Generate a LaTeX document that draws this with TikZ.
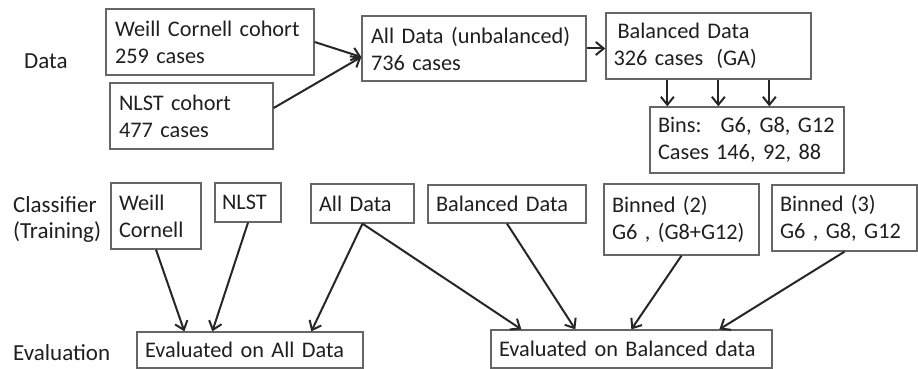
\documentclass[tikz,border=0pt]{standalone}
\usepackage{fontspec}
\setmainfont{Carlito}
\usetikzlibrary{arrows.meta,calc}
\begin{document}
\begin{tikzpicture}[x=1pt,y=-1pt,
  every node/.style={text=black!88},
  box/.style={draw=black!60, line width=1.3pt, align=left, inner xsep=9pt, inner ysep=0pt, font=\fontsize{22.3}{27}\selectfont},
  lbl/.style={anchor=base west, inner sep=0pt, font=\fontsize{23}{27}\selectfont},
  arr/.style={draw=black!85, line width=2pt, -{Straight Barb[length=8pt,width=13pt,line width=2pt]}}]
\useasboundingbox (0,0) rectangle (918,369);
% row labels
\node[lbl] (ldata) at (24,68) {Data};
\node[lbl] (lclass) at (13,212) {Classifier};
\node[lbl] (ltrain) at (13,238) {(Training)};
\node[lbl] (leval) at (13,360) {Evaluation};
% data row
\node[box, minimum width=208pt, minimum height=66pt, text width=190pt] (wcc) at (210,42) {\mbox{Weill Cornell cohort}\\\mbox{259 cases}};
\node[box, minimum width=163pt, minimum height=66pt, text width=145pt] (nlstc) at (191.5,116) {\mbox{NLST cohort}\\\mbox{477 cases}};
\node[box, minimum width=224pt, minimum height=65pt, text width=206pt] (all) at (474,48.5) {\mbox{All Data (unbalanced)}\\\mbox{736 cases}};
\node[box, minimum width=205pt, minimum height=66pt, text width=190pt, inner xsep=7.5pt] (bal) at (708.5,46) {\mbox{\hspace{4pt}Balanced Data}\\\mbox{326 cases\hspace{13pt}(GA)}};
\node[box, minimum width=194pt, minimum height=66pt, text width=178pt, inner xsep=8pt] (bins) at (747,140) {\mbox{Bins:\hspace{19pt}G6,\hspace{8pt}G8, G12}\\\mbox{Cases\hspace{7pt}146, 92, 88}};
% classifier row
\node[box, minimum width=90pt, minimum height=66pt, text width=74pt, inner xsep=8pt] (cwc) at (156,216) {\mbox{Weill}\\\mbox{Cornell}};
\node[box, minimum width=66pt, minimum height=39pt, text width=52pt, inner xsep=7pt] (cnlst) at (248,202.5) {\mbox{NLST}};
\node[box, minimum width=103pt, minimum height=39pt, text width=87pt, inner xsep=8pt] (call) at (362.5,203.5) {\mbox{All Data}};
\node[box, minimum width=158pt, minimum height=38pt, text width=142pt, inner xsep=8pt] (cbal) at (507,204) {\mbox{Balanced Data}};
\node[box, minimum width=155pt, minimum height=71pt, text width=139pt, inner xsep=8pt] (cb2) at (681.5,219.5) {\mbox{Binned (2)}\\\mbox{G6 , (G8+G12)}};
\node[box, minimum width=145pt, minimum height=66pt, text width=129pt, inner xsep=8pt] (cb3) at (844.5,218) {\mbox{Binned (3)}\\\mbox{G6 , G8, G12}};
% evaluation row
\node[box, minimum width=226pt, minimum height=36pt, text width=210pt, inner xsep=8pt] (evall) at (250,350) {\mbox{Evaluated on All Data}};
\node[box, minimum width=281pt, minimum height=38pt, text width=265pt, inner xsep=8pt] (evbal) at (631.5,349) {\mbox{Evaluated on Balanced data}};
% helper coordinates
\path (bins.north west) ++(18,0) coordinate (b1);
\path (bins.north west) ++(69,0) coordinate (b2);
\path (bins.north west) ++(120,0) coordinate (b3);
\path (evall.north west) ++(48,0) coordinate (ea1);
\path (evall.north west) ++(76,0) coordinate (ea2);
\path (evall.north west) ++(175,0) coordinate (ea3);
\path (evbal.north west) ++(31,0) coordinate (eb1);
\path (evbal.north west) ++(85,0) coordinate (eb2);
\path (evbal.north west) ++(141,0) coordinate (eb3);
\path (evbal.north west) ++(229,0) coordinate (eb4);
% arrows
\draw[arr] (wcc.east) -- ([yshift=-8.5pt]all.west);
\draw[arr] ([yshift=8pt]nlstc.east) -- ([yshift=-8.5pt]all.west);
\draw[arr] (all.east) -- (all.east -| bal.west);
\draw[arr] (b1 |- bal.south) -- (b1);
\draw[arr] (b2 |- bal.south) -- (b2);
\draw[arr] (b3 |- bal.south) -- (b3);
\draw[arr] (cwc.south) -- (ea1);
\draw[arr] (cnlst.south) -- (ea2);
\draw[arr] (call.south) -- (ea3);
\draw[arr] (call.south) -- (eb1);
\draw[arr] (cbal.south) -- (eb2);
\draw[arr] (cb2.south) -- (eb3);
\draw[arr] (cb3.south) -- (eb4);
\end{tikzpicture}
\end{document}
